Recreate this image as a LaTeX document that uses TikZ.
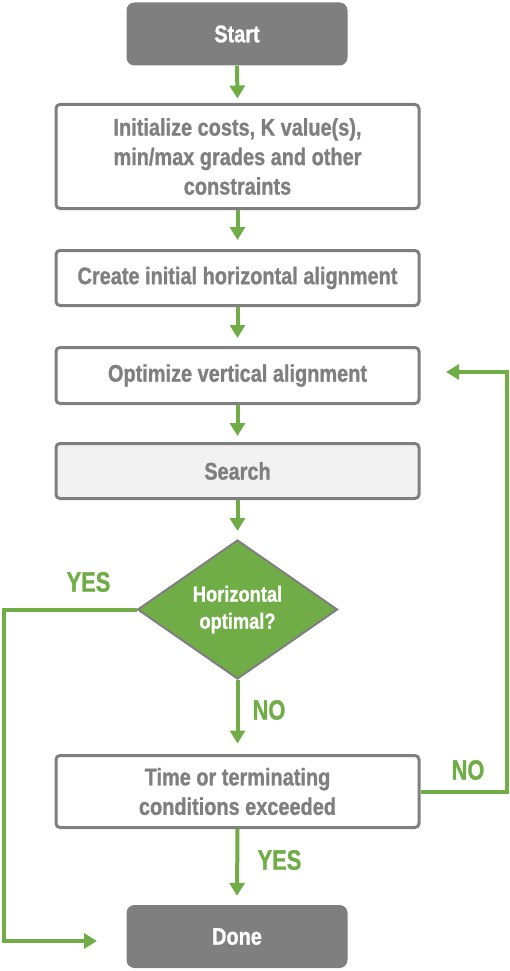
\documentclass[tikz,border=0pt]{standalone}
\usepackage{fontspec}
\setmainfont{Liberation Sans}[FakeStretch=0.83,BoldFeatures={FakeBold=1}]
\newfontfamily\lblfont{Liberation Sans}[FakeStretch=0.78,BoldFeatures={FakeBold=1}]
\usetikzlibrary{shapes.geometric,arrows.meta}
\definecolor{fgreen}{HTML}{70AD47}
\definecolor{fgray}{HTML}{7F7F7F}
\definecolor{lgray}{HTML}{F2F2F2}
\begin{document}
\begin{tikzpicture}[x=1pt,y=-1pt,
  term/.style={fill=fgray, rounded corners=8pt, minimum width=221pt, minimum height=63pt,
    text=white, font=\fontsize{24}{29.5}\selectfont\bfseries, inner sep=0pt},
  proc/.style={draw=fgray, line width=3pt, fill=white, rounded corners=4pt, minimum width=363pt,
    text=fgray, font=\fontsize{24}{29.5}\selectfont\bfseries, align=center, inner sep=0pt},
  decision/.style={diamond, draw=fgray, line width=2pt, fill=fgreen, minimum width=200pt,
    minimum height=139pt, inner sep=0pt, text=white, align=center,
    font=\fontsize{22}{27}\selectfont\bfseries},
  flow/.style={draw=fgreen, line width=4pt, -{Triangle[width=15pt,length=13pt]}},
  lbl/.style={text=fgreen, font=\fontsize{28}{28}\lblfont\bfseries, inner sep=0pt}]
\useasboundingbox (0,0) rectangle (510,971);
\node[term] (start) at (237,34) {Start};
\node[proc, minimum height=104pt] (init) at (237.5,156.5) {Initialize costs, K value(s),\\ min/max grades and other\\ constraints};
\node[proc, minimum height=55pt] (create) at (237.5,278) {Create initial horizontal alignment};
\node[proc, minimum height=56pt] (opt) at (237.5,375.5) {Optimize vertical alignment};
\node[proc, minimum height=55pt, fill=lgray] (search) at (237.5,471) {Search};
\node[decision] (dec) at (237.5,609.5) {Horizontal\\ optimal?};
\node[proc, minimum height=72pt] (time) at (237.5,791.5) {Time or terminating\\ conditions exceeded};
\node[term] (done) at (237,936.5) {Done};
\coordinate (loopTop) at (507,372);
\coordinate (loopEnd) at (446,372);
\coordinate (yesCorner) at (4,941);
\coordinate (yesEnd) at (97,941);
\draw[flow] (start.south) -- ([yshift=4.5pt]init.north);
\draw[flow] (init.south) -- ([yshift=9pt]create.north);
\draw[flow] (create.south) -- ([yshift=8pt]opt.north);
\draw[flow] (opt.south) -- ([yshift=6pt]search.north);
\draw[flow] (search.south) -- ([yshift=8pt]dec.north);
\draw[flow] (dec.south) -- ([yshift=10.5pt]time.north);
\draw[flow] (time.south) -- ([yshift=9pt]done.north);
\draw[flow] (time.east) -| (loopTop) -- (loopEnd);
\draw[flow] (dec.west) -| (yesCorner) -- (yesEnd);
\node[lbl] (yes1) at (88.5,582) {YES};
\node[lbl] (no1) at (269,710) {NO};
\node[lbl] (no2) at (468,770) {NO};
\node[lbl] (yes2) at (279.5,860) {YES};
\end{tikzpicture}
\end{document}
